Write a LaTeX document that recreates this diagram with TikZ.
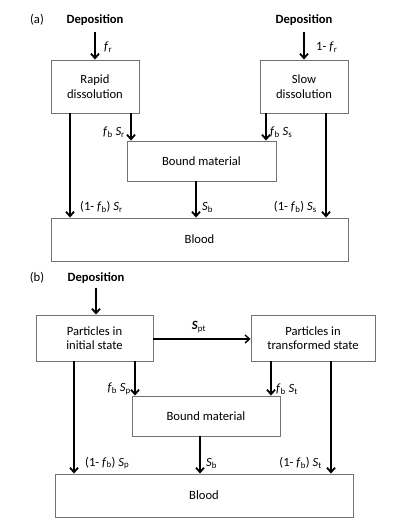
\documentclass[tikz,border=0pt]{standalone}
\usepackage{fontspec}
\setmainfont{Carlito}
\usetikzlibrary{positioning,arrows.meta}

\newcommand{\fb}{\textit{f}\textsubscript{b}}
\newcommand{\rate}[1]{\textit{S}\textsubscript{#1}}

\begin{document}
\begin{tikzpicture}[x=1pt,y=-1pt,>={Straight Barb[length=4.5pt,width=8pt]},
  box/.style={draw=black!55,line width=0.9pt,align=center,inner sep=0pt},
  flow/.style={->,line width=1.8pt},
  lbl/.style={inner sep=0pt},
  every node/.style={font=\fontsize{12.6}{14.5}\selectfont}]
\useasboundingbox (0,0) rectangle (402,529);

% (a)
\node[lbl] (taga) at (37,20) {(a)};
\node[lbl,font=\fontsize{12.6}{14.5}\selectfont\bfseries] (depl) at (95,20) {Deposition};
\node[lbl,font=\fontsize{12.6}{14.5}\selectfont\bfseries] (depr) at (304,20) {Deposition};
\node[box,minimum width=88,minimum height=53] (rapid) at (95,86.5) {Rapid\\dissolution};
\node[box,minimum width=88,minimum height=53] (slow) at (304,86.5) {Slow\\dissolution};
\node[box,minimum width=149,minimum height=40] (bounda) at (201.5,161) {Bound material};
\node[box,minimum width=297,minimum height=43] (blooda) at (199.5,239.5) {Blood};

\draw[flow] (depl.center) ++(0,12) -- (rapid.north);
\draw[flow] (depr.center) ++(0,12) -- (slow.north);
\draw[flow] (rapid.south -| 70,0) -- (blooda.north -| 70,0);
\draw[flow] (rapid.south -| 131,0) -- (bounda.north -| 131,0);
\draw[flow] (slow.south -| 266,0) -- (bounda.north -| 266,0);
\draw[flow] (slow.south -| 326,0) -- (blooda.north -| 326,0);
\draw[flow] (bounda.south -| 196,0) -- (blooda.north -| 196,0);

\node[lbl,anchor=west] (fr) at (104,47) {\textit{f}\textsubscript{r}};
\node[lbl,anchor=west] (frs) at (316,47) {1- \textit{f}\textsubscript{r}};
\node[lbl,anchor=east] (fbsr) at (125,132) {\fb\ \rate{r}};
\node[lbl,anchor=west] (fbss) at (270,132) {\fb\ \rate{s}};
\node[lbl,anchor=west] (osr) at (80,207) {(1- \fb) \rate{r}};
\node[lbl,anchor=west] (sba) at (202,207) {\rate{b}};
\node[lbl,anchor=east] (oss) at (317,207) {(1- \fb) \rate{s}};

% (b)
\node[lbl] (tagb) at (37,278) {(b)};
\node[lbl,font=\fontsize{12.6}{14.5}\selectfont\bfseries] (depb) at (96,278) {Deposition};
\node[box,minimum width=117,minimum height=46] (init) at (94.5,338) {Particles in\\initial state};
\node[box,minimum width=124,minimum height=46] (trans) at (313,338) {Particles in\\transformed state};
\node[box,minimum width=148,minimum height=40] (boundb) at (206,416) {Bound material};
\node[box,minimum width=298,minimum height=43] (bloodb) at (204,495.5) {Blood};

\draw[flow] (depb.center) ++(0,10) -- (init.north -| depb);
\draw[->,line width=1.4pt] (init.east |- 0,339) -- (trans.west |- 0,339);
\draw[flow] (init.south -| 74,0) -- (bloodb.north -| 74,0);
\draw[flow] (init.south -| 135,0) -- (boundb.north -| 135,0);
\draw[flow] (trans.south -| 271,0) -- (boundb.north -| 271,0);
\draw[flow] (trans.south -| 331,0) -- (bloodb.north -| 331,0);
\draw[flow] (boundb.south -| 200,0) -- (bloodb.north -| 200,0);

\node[lbl] (spt) at (199,327) {\textbf{\textit{S}}\textsubscript{pt}};
\node[lbl,anchor=east] (fbsp) at (131,389) {\fb\ \rate{p}};
\node[lbl,anchor=west] (fbst) at (276,389) {\fb\ \rate{t}};
\node[lbl,anchor=west] (osp) at (85,463) {(1- \fb) \rate{p}};
\node[lbl,anchor=west] (sbb) at (206,463) {\rate{b}};
\node[lbl,anchor=east] (ost) at (322,463) {(1- \fb) \rate{t}};
\end{tikzpicture}
\end{document}
